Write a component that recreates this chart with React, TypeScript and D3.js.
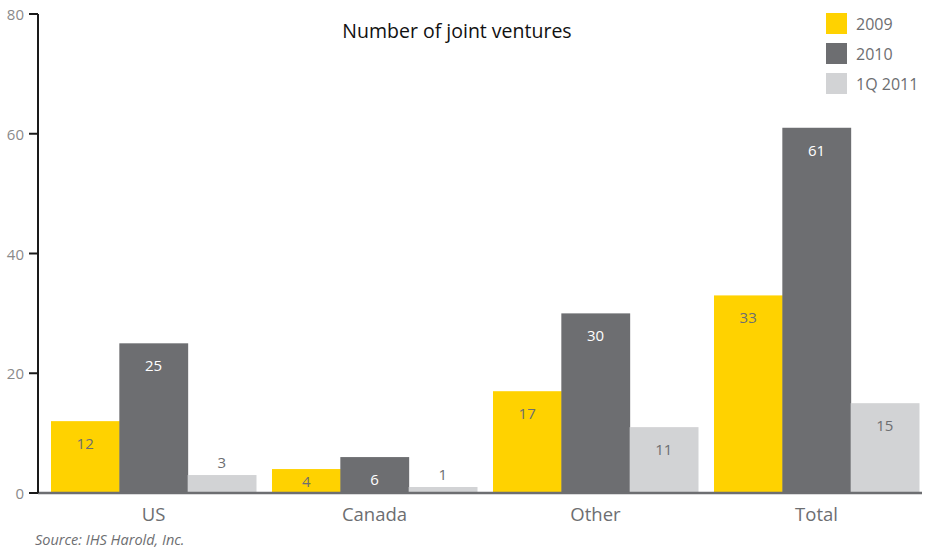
import React from "react";
import * as d3 from "d3";

const categories = ["US", "Canada", "Other", "Total"];
const seriesNames = ["2009", "2010", "1Q 2011"];
const values2009 = [12, 4, 17, 33];
const values2010 = [25, 6, 30, 61];
const values1Q2011 = [3, 1, 11, 15];
const yTicks = [0, 20, 40, 60, 80];

const W = 937;
const H = 548;
const colors = ["#ffd200", "#6d6e71", "#d2d3d5"];
const labelColors = ["#6d6e71", "#ffffff", "#6d6e71"];
const FONT = "'Open Sans', 'DejaVu Sans', sans-serif";

export default function App() {
  const series = [values2009, values2010, values1Q2011];
  const x0 = d3.scaleBand<string>().domain(categories).range([43, 927]).paddingInner(0.0724).paddingOuter(0.0362);
  const x1 = d3.scaleBand<string>().domain(seriesNames).range([0, x0.bandwidth()]);
  const y = d3.scaleLinear().domain([0, 80]).range([493, 14]);

  return (
    <svg width={W} height={H} style={{ position: "absolute", left: 0, top: 0 }} fontFamily={FONT}>
      <rect width={W} height={H} fill="#fff" />
      {categories.map((c, ci) => (
        <g key={c}>
          {seriesNames.map((s, si) => {
            const v = series[si][ci];
            const bx = (x0(c) as number) + (x1(s) as number);
            const bw = x1.bandwidth();
            const top = y(v);
            const h = y(0) - top;
            let ly: number;
            if (v < 5 && si === 2) {
              ly = top - 13;
            } else {
              ly = Math.min(top + 22, y(0) - 12);
            }
            return (
              <g key={s}>
                <rect x={bx} y={top} width={bw + 0.5} height={h} fill={colors[si]} />
                <text x={bx + bw / 2} y={ly} textAnchor="middle" dominantBaseline="central" fontSize={15} fill={labelColors[si]}>
                  {v}
                </text>
              </g>
            );
          })}
        </g>
      ))}
      <line x1={38} x2={922} y1={y(0)} y2={y(0)} stroke="#6d6e71" strokeWidth={2.5} />
      {categories.map((c) => (
        <text key={c} x={(x0(c) as number) + x0.bandwidth() / 2} y={513} textAnchor="middle" dominantBaseline="central" fontSize={18.5} fontWeight={500} fill="#6d6e71">
          {c}
        </text>
      ))}
      <line x1={38} x2={38} y1={y(80)} y2={y(0)} stroke="#1a1a1a" strokeWidth={2} />
      {yTicks.map((t) => (
        <g key={t}>
          <line x1={29} x2={38} y1={y(t)} y2={y(t)} stroke="#1a1a1a" strokeWidth={2} />
          <text x={24} y={y(t)} textAnchor="end" dominantBaseline="central" fontSize={15} fill="#8a8a8a">
            {t}
          </text>
        </g>
      ))}
      <text x={457} y={30} textAnchor="middle" dominantBaseline="central" fontSize={19.5} fill="#111">
        Number of joint ventures
      </text>
      {seriesNames.map((s, i) => (
        <g key={s} transform={`translate(826, ${13 + i * 30})`}>
          <rect width={21} height={21} fill={colors[i]} />
          <text x={30} y={11} dominantBaseline="central" fontSize={16} fill="#6d6e71">
            {s}
          </text>
        </g>
      ))}
      <text x={35} y={539} dominantBaseline="central" fontSize={14.5} fontStyle="italic" fill="#6d6e71">
        Source: IHS Harold, Inc.
      </text>
    </svg>
  );
}
